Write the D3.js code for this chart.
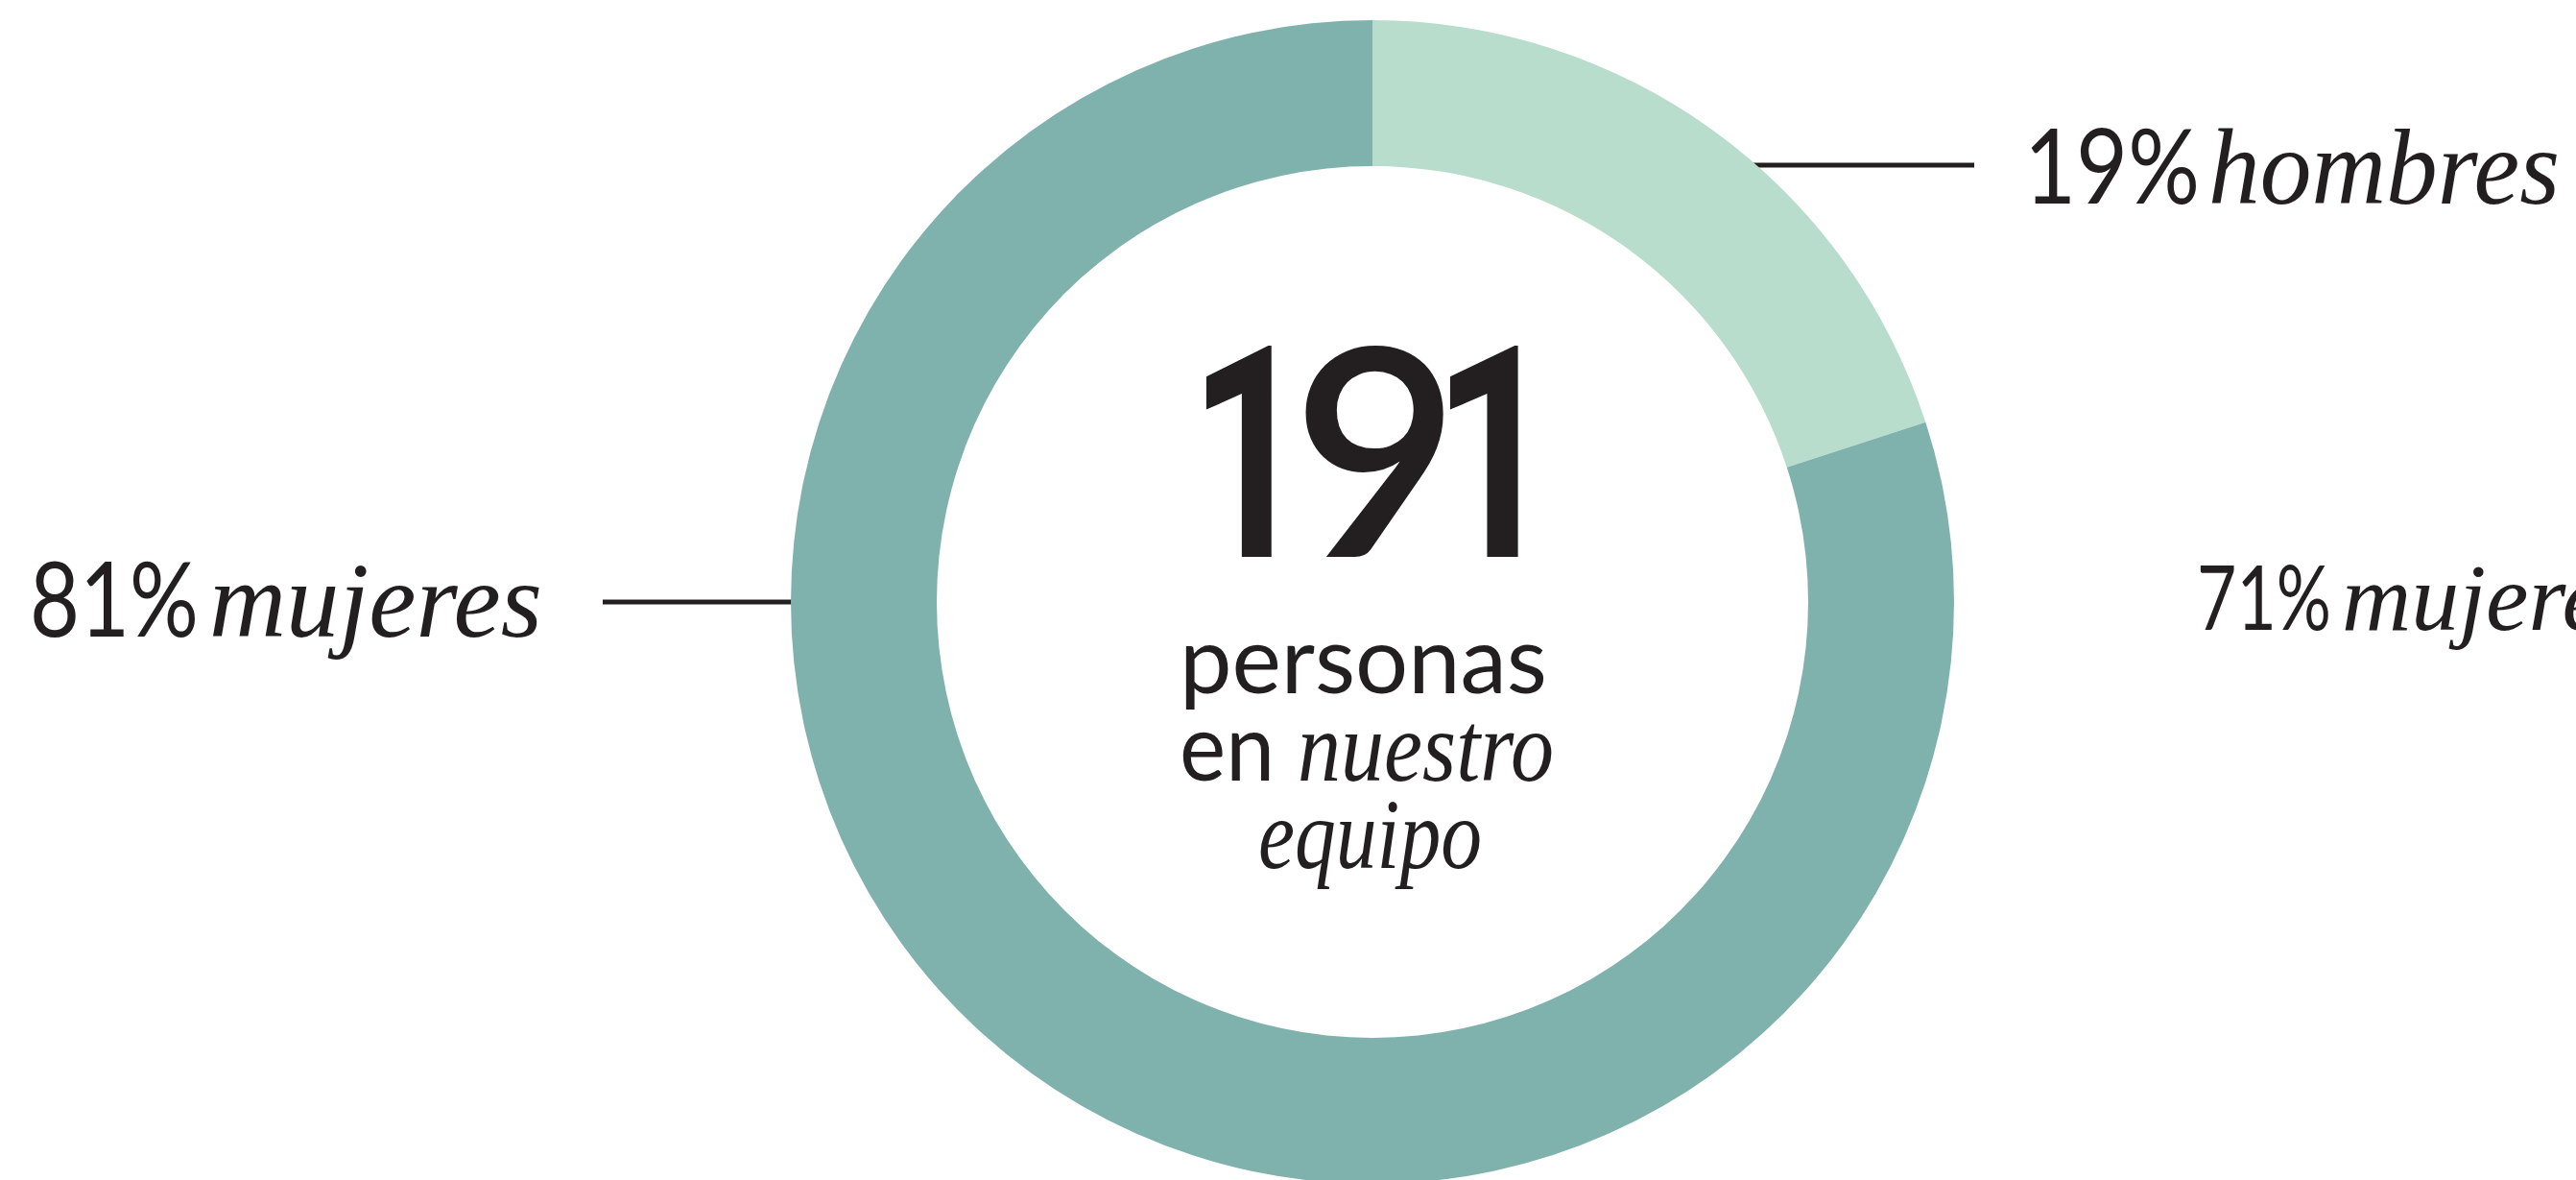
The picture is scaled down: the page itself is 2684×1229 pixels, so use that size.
<!DOCTYPE html>
<html>
<head>
<meta charset="utf-8">
<script src="https://cdn.jsdelivr.net/npm/d3@7"></script>
<style>
  body { margin: 0; background: #fff; }
  svg { display: block; }
</style>
</head>
<body>
<script>
// data
const categories = ["hombres", "mujeres"]
const percentLabels = ["19%", "81%"]
// slice sizes as they are drawn on the ring (light slice spans ~72deg)
const ringShares = [20, 80]
const totalPeople = "191"
const centerWords = ["personas", "en", "nuestro", "equipo"]
// label of the next chart, cut off at the right edge
const nextLabel = ["71%", "mujeres"]

const W = 2684, H = 1229
const cx = 1430, cy = 627
const outerR = 606, innerR = 454
const ink = "#231F20"
const colors = d3.scaleOrdinal().domain(categories).range(["#B8DDCC", "#80B2AD"])
const sans = "Lato, 'Liberation Sans', sans-serif"
const serif = "'Liberation Serif', 'Times New Roman', serif"

const svg = d3.select("body").append("svg")
    .attr("width", W)
    .attr("height", H)

const pie = d3.pie().sort(null).value((d) => d.share)
const arc = d3.arc().innerRadius(innerR).outerRadius(outerR)
const slices = pie(categories.map((c, i) => ({ cat: c, share: ringShares[i], pct: percentLabels[i] })))

// leader lines sit under the ring
const leaders = [
    { cat: "hombres", y: 172, x2: 2057 },
    { cat: "mujeres", y: cy, x2: 628 },
]
const gLines = svg.append("g")
leaders.forEach((l) => {
    const dx = Math.sqrt(outerR * outerR - (cy - l.y) * (cy - l.y))
    const side = l.x2 > cx ? 1 : -1
    gLines.append("line")
        .attr("x1", cx + side * (dx - 12))
        .attr("x2", l.x2)
        .attr("y1", l.y)
        .attr("y2", l.y)
        .attr("stroke", ink)
        .attr("stroke-width", 5)
})

const ring = svg.append("g").attr("transform", `translate(${cx},${cy})`)
ring.selectAll("path")
    .data(slices)
    .join("path")
    .attr("fill", (d) => colors(d.data.cat))
    .attr("d", arc)

// side labels: percent in sans, word in italic serif
const labelPos = {
    hombres: { x: 2109, base: 212, pctW: 183, wordX: 2301, wordW: 366 },
    mujeres: { x: 31, base: 663, pctW: 176, wordX: 218, wordW: 347 },
}
slices.forEach((s) => {
    const p = labelPos[s.data.cat]
    svg.append("text")
        .attr("x", p.x).attr("y", p.base)
        .attr("font-family", sans).attr("font-weight", 400)
        .attr("font-size", 108).attr("fill", ink)
        .attr("textLength", p.pctW).attr("lengthAdjust", "spacingAndGlyphs")
        .text(s.data.pct)
    svg.append("text")
        .attr("x", p.wordX).attr("y", p.base)
        .attr("font-family", serif).attr("font-style", "italic")
        .attr("font-size", 112).attr("fill", ink)
        .attr("textLength", p.wordW).attr("lengthAdjust", "spacingAndGlyphs")
        .text(s.data.cat)
})

svg.append("text")
    .attr("x", 2289).attr("y", 656)
    .attr("font-family", sans).attr("font-weight", 400)
    .attr("font-size", 94).attr("fill", ink)
    .attr("textLength", 140).attr("lengthAdjust", "spacingAndGlyphs")
    .text(nextLabel[0])
svg.append("text")
    .attr("x", 2440).attr("y", 656)
    .attr("font-family", serif).attr("font-style", "italic")
    .attr("font-size", 100).attr("fill", ink)
    .text(nextLabel[1])

// centre number: each glyph is fitted to its ink box (left, right) and cap height
const digitBoxes = [[1256, 1328], [1356, 1506], [1510, 1585]]
const digitFonts = [["Roboto", 700], ["Lato", 600], ["Roboto", 700]]
const numBase = 580, numCap = 222
const ctx = document.createElement("canvas").getContext("2d")
svg.append("g")
    .selectAll("text")
    .data(totalPeople.split(""))
    .join("text")
    .each(function (d, i) {
        const [fam, wt] = digitFonts[i]
        ctx.font = `${wt} 300px ${fam}`
        const size = 300 * numCap / ctx.measureText("1").actualBoundingBoxAscent
        ctx.font = `${wt} ${size}px ${fam}`
        const m = ctx.measureText(d)
        const left = -m.actualBoundingBoxLeft
        const right = m.actualBoundingBoxRight
        const sx = (digitBoxes[i][1] - digitBoxes[i][0]) / (right - left)
        d3.select(this)
            .attr("transform", `translate(${digitBoxes[i][0] - left * sx},${numBase}) scale(${sx},1)`)
            .attr("font-family", fam)
            .attr("font-weight", wt)
            .attr("font-size", size)
    })
    .attr("fill", ink)
    .text((d) => d)

svg.append("text")
    .attr("x", 1229).attr("y", 722)
    .attr("font-family", sans).attr("font-weight", 400)
    .attr("font-size", 96).attr("fill", ink)
    .attr("textLength", 383).attr("lengthAdjust", "spacingAndGlyphs")
    .text(centerWords[0])
svg.append("text")
    .attr("x", 1229).attr("y", 813)
    .attr("font-family", sans).attr("font-weight", 400)
    .attr("font-size", 96).attr("fill", ink)
    .attr("textLength", 99).attr("lengthAdjust", "spacingAndGlyphs")
    .text(centerWords[1])
svg.append("text")
    .attr("x", 1352).attr("y", 813)
    .attr("font-family", serif).attr("font-style", "italic")
    .attr("font-size", 104).attr("fill", ink)
    .attr("textLength", 267).attr("lengthAdjust", "spacingAndGlyphs")
    .text(centerWords[2])
svg.append("text")
    .attr("x", 1311).attr("y", 904)
    .attr("font-family", serif).attr("font-style", "italic")
    .attr("font-size", 104).attr("fill", ink)
    .attr("textLength", 233).attr("lengthAdjust", "spacingAndGlyphs")
    .text(centerWords[3])
</script>
</body>
</html>
